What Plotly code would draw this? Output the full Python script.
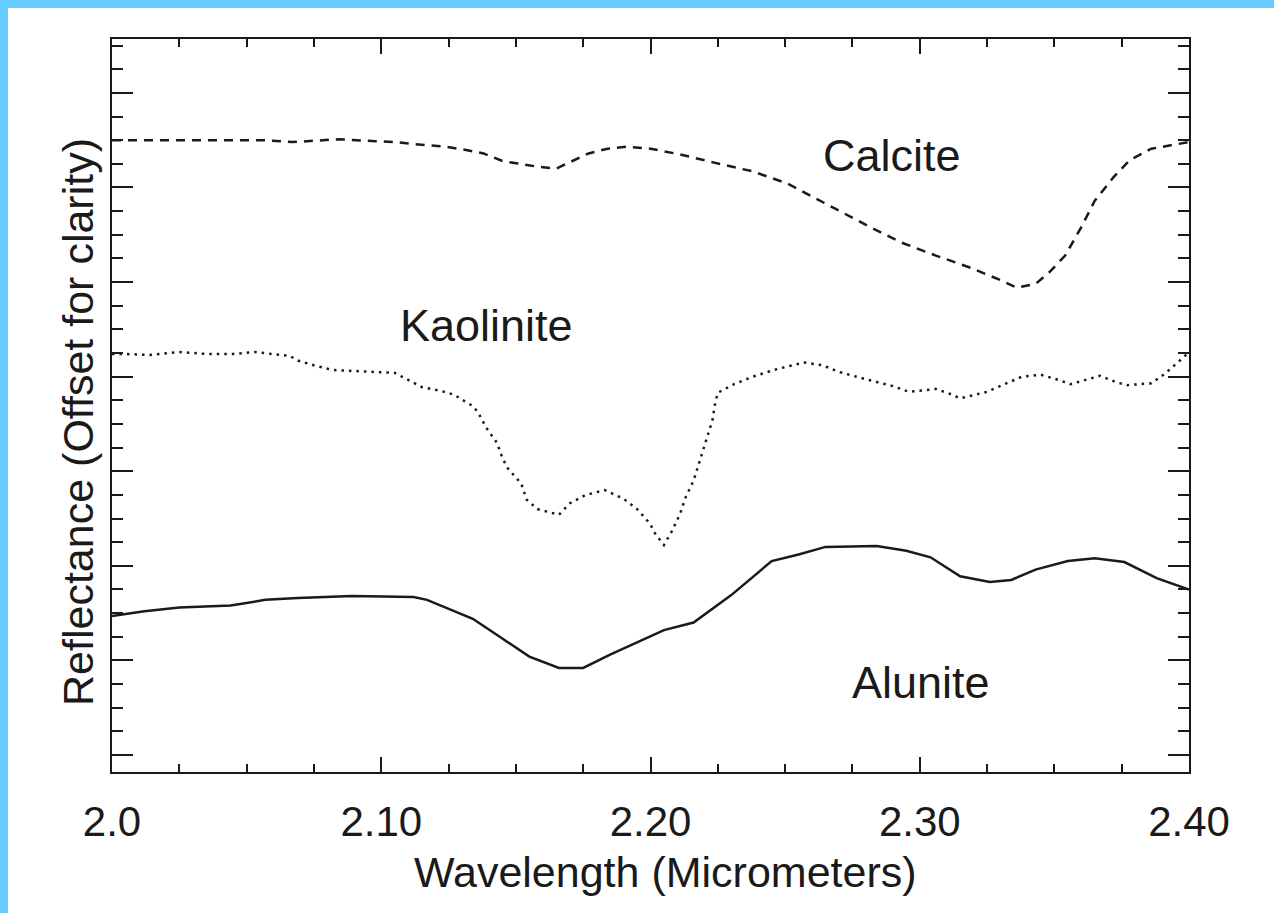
import plotly.graph_objects as go

# ---- data ----
calcite_x = [2.000, 2.0375, 2.057, 2.067, 2.084, 2.098, 2.105, 2.112, 2.124, 2.131, 2.138, 2.145,
             2.158, 2.165, 2.171, 2.177, 2.184, 2.191, 2.200, 2.211, 2.224, 2.238, 2.251, 2.261,
             2.269, 2.281, 2.293, 2.306, 2.319, 2.330, 2.336, 2.343, 2.348, 2.354, 2.360, 2.365,
             2.372, 2.378, 2.386, 2.397, 2.400]
calcite_y = [6.50, 6.50, 6.50, 6.48, 6.51, 6.49, 6.48, 6.46, 6.43, 6.40, 6.36, 6.28,
             6.22, 6.20, 6.28, 6.36, 6.41, 6.43, 6.41, 6.35, 6.26, 6.17, 6.04, 5.89,
             5.77, 5.59, 5.42, 5.28, 5.15, 5.02, 4.94, 4.98, 5.10, 5.28, 5.58, 5.86,
             6.11, 6.29, 6.41, 6.47, 6.48]

kaolinite_x = [2.000, 2.004, 2.014, 2.025, 2.035, 2.045, 2.053, 2.059, 2.066, 2.069, 2.075, 2.082,
               2.095, 2.105, 2.109, 2.115, 2.122, 2.127, 2.131, 2.134, 2.136, 2.139, 2.143, 2.145,
               2.147, 2.152, 2.154, 2.158, 2.166, 2.170, 2.176, 2.183, 2.190, 2.195, 2.200, 2.201,
               2.205, 2.208, 2.211, 2.213, 2.216, 2.219, 2.221, 2.223, 2.224, 2.225, 2.231, 2.238,
               2.247, 2.257, 2.264, 2.270, 2.279, 2.290, 2.296, 2.306, 2.312, 2.315, 2.325, 2.332,
               2.338, 2.345, 2.351, 2.356, 2.364, 2.367, 2.373, 2.377, 2.386, 2.391, 2.397, 2.400]
kaolinite_y = [4.24, 4.24, 4.23, 4.26, 4.24, 4.24, 4.26, 4.24, 4.22, 4.17, 4.12, 4.07,
               4.05, 4.04, 3.98, 3.89, 3.85, 3.81, 3.74, 3.69, 3.62, 3.46, 3.30, 3.14,
               3.03, 2.87, 2.70, 2.60, 2.54, 2.66, 2.75, 2.80, 2.71, 2.60, 2.44, 2.37,
               2.22, 2.37, 2.55, 2.72, 2.90, 3.17, 3.35, 3.54, 3.72, 3.83, 3.92, 4.00,
               4.08, 4.15, 4.12, 4.05, 3.98, 3.90, 3.84, 3.87, 3.81, 3.77, 3.84, 3.93,
               4.00, 4.02, 3.97, 3.92, 3.99, 4.01, 3.94, 3.91, 3.93, 4.03, 4.18, 4.26]

alunite_x = [2.000, 2.012, 2.025, 2.044, 2.057, 2.069, 2.089, 2.112, 2.117, 2.134, 2.144, 2.155,
             2.166, 2.175, 2.185, 2.200, 2.205, 2.216, 2.230, 2.245, 2.255, 2.265, 2.284, 2.295,
             2.304, 2.315, 2.326, 2.334, 2.343, 2.355, 2.365, 2.376, 2.388, 2.400]
alunite_y = [1.47, 1.52, 1.56, 1.58, 1.64, 1.66, 1.68, 1.67, 1.64, 1.44, 1.25, 1.04,
             0.92, 0.92, 1.06, 1.25, 1.32, 1.40, 1.69, 2.05, 2.12, 2.20, 2.21, 2.16,
             2.09, 1.89, 1.83, 1.85, 1.96, 2.05, 2.08, 2.04, 1.87, 1.75]

x_tickvals = [2.0, 2.1, 2.2, 2.3, 2.4]
x_ticktext = ["2.0", "2.10", "2.20", "2.30", "2.40"]

labels = ["Calcite", "Kaolinite", "Alunite"]
label_x = [2.2897, 2.139, 2.3005]
label_y = [6.34, 4.54, 0.77]

x_title = "Wavelength (Micrometers)"
y_title = "Reflectance (Offset for clarity)"

FONT = "Liberation Sans"
INK = "#1a1a1a"
FRAME = "#66CCFF"

fig = go.Figure()
fig.add_trace(go.Scatter(x=calcite_x, y=calcite_y, mode="lines",
                         line=dict(color=INK, width=2.5, dash="9px,7px"), showlegend=False))
fig.add_trace(go.Scatter(x=kaolinite_x, y=kaolinite_y, mode="lines",
                         line=dict(color=INK, width=2.5, dash="2.5px,5px"), showlegend=False))
fig.add_trace(go.Scatter(x=alunite_x, y=alunite_y, mode="lines",
                         line=dict(color=INK, width=2.5), showlegend=False))

for t, xx, yy in zip(labels, label_x, label_y):
    fig.add_annotation(x=xx, y=yy, text=t, showarrow=False,
                       font=dict(family=FONT, size=45, color=INK))

# axis titles (placed as annotations to match the reference offsets)
fig.add_annotation(xref="paper", yref="paper", x=0.514, y=-0.136, text=x_title,
                   showarrow=False, xanchor="center", yanchor="middle",
                   font=dict(family=FONT, size=43, color=INK))
fig.add_annotation(xref="paper", yref="paper", x=-0.0316, y=0.4775, text=y_title,
                   showarrow=False, xanchor="center", yanchor="middle", textangle=-90,
                   font=dict(family=FONT, size=43, color=INK))

# white page inside the light-blue frame (frame only on top and left)
fig.add_shape(type="rect", xref="paper", yref="paper",
              x0=-0.0966, x1=1.1, y0=-0.25, y1=1.0423,
              fillcolor="white", line=dict(width=0), layer="below")

fig.update_layout(
    width=1274, height=913,
    margin=dict(l=112, r=85, t=39, b=141),
    paper_bgcolor=FRAME,
    plot_bgcolor="white",
    font=dict(family=FONT, color=INK),
    xaxis=dict(
        range=[2.0, 2.4], tickvals=x_tickvals, ticktext=x_ticktext,
        ticks="inside", ticklen=15, tickwidth=2, tickcolor=INK,
        showline=True, linewidth=2, linecolor=INK, mirror="ticks",
        showgrid=False, zeroline=False,
        tickfont=dict(family=FONT, size=42, color=INK),
        ticklabelstandoff=12,
        minor=dict(dtick=0.025, tick0=2.0, ticks="inside", ticklen=8, tickwidth=2,
                   tickcolor=INK, showgrid=False),
    ),
    yaxis=dict(
        range=[-0.18, 7.57], dtick=1, tick0=0,
        ticks="inside", ticklen=21, tickwidth=2, tickcolor=INK,
        showline=True, linewidth=2, linecolor=INK, mirror="ticks",
        showgrid=False, zeroline=False, showticklabels=False,
        minor=dict(dtick=0.25, tick0=0, ticks="inside", ticklen=11, tickwidth=2,
                   tickcolor=INK, showgrid=False),
    ),
)

fig.write_html(
    "out.html",
    config={"displayModeBar": False},
    post_script="document.body.style.margin='0';"
                "document.body.style.background='white';"
                "document.documentElement.style.overflow='hidden';",
)
